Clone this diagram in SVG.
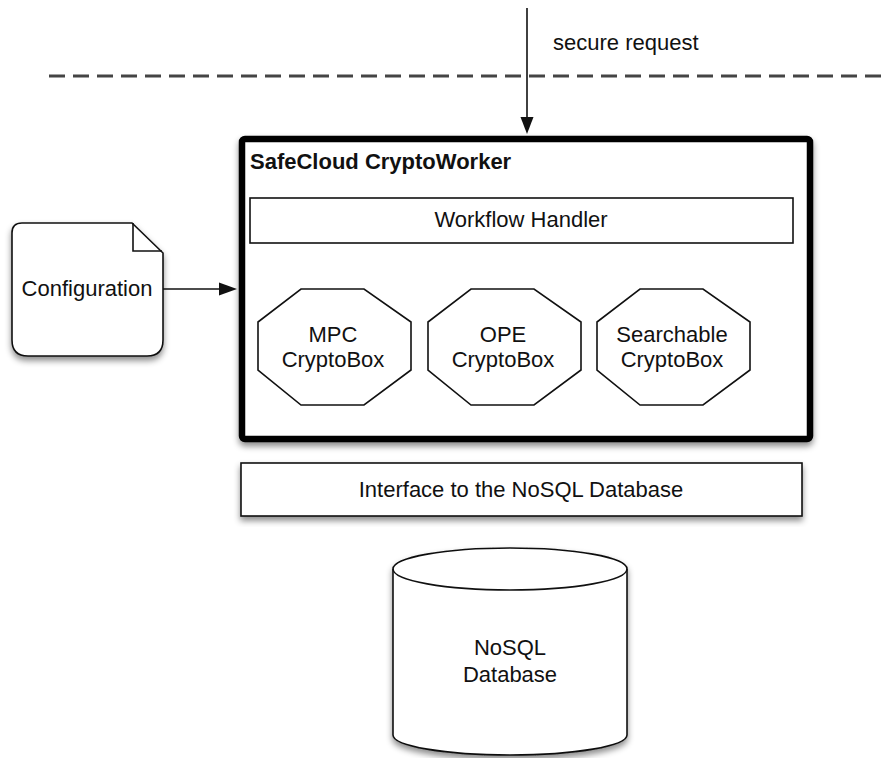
<svg xmlns="http://www.w3.org/2000/svg" width="887" height="758" viewBox="0 0 887 758">
<style>
text{font-family:"Liberation Sans",Arial,sans-serif;font-size:22px;fill:#111;}
.c{text-anchor:middle;}
.b{font-weight:bold;}
.shape{fill:#fff;stroke:#111;stroke-width:1.6;}
.conn{stroke:#111;stroke-width:1.6;fill:none;}
.head{fill:#111;stroke:none;}
</style>
<defs>
<filter id="sh" x="-10%" y="-10%" width="125%" height="130%">
<feDropShadow dx="0" dy="4" stdDeviation="3" flood-color="#000" flood-opacity="0.45"/>
</filter>
</defs>
<rect width="887" height="758" fill="#fff"/>
<g id="boundary">
<line x1="49" y1="76" x2="887" y2="76" stroke="#444" stroke-width="3" stroke-dasharray="16 8"/>
</g>
<g id="label-secure-request">
<text x="553" y="50">secure request</text>
</g>
<g id="cryptoworker">
<rect x="242" y="139" width="568" height="300" rx="3" fill="#fff" stroke="#000" stroke-width="6.5" filter="url(#sh)"/>
<text class="b" x="250" y="169">SafeCloud CryptoWorker</text>
</g>
<g id="workflow-handler">
<rect class="shape" x="250" y="198" width="543" height="45"/>
<text class="c" x="521" y="227">Workflow Handler</text>
</g>
<g id="mpc-cryptobox">
<polygon class="shape" points="301,289 364,289 411,322 411,370 364,405 301,405 258,370 258,322"/>
<text class="c" x="333" y="342">MPC</text>
<text class="c" x="333" y="367">CryptoBox</text>
</g>
<g id="ope-cryptobox">
<polygon class="shape" points="471,289 534,289 581,322 581,370 534,405 471,405 428,370 428,322"/>
<text class="c" x="503" y="342">OPE</text>
<text class="c" x="503" y="367">CryptoBox</text>
</g>
<g id="searchable-cryptobox">
<polygon class="shape" points="640,289 703,289 750,322 750,370 703,405 640,405 597,370 597,322"/>
<text class="c" x="672" y="342">Searchable</text>
<text class="c" x="672" y="367">CryptoBox</text>
</g>
<g id="configuration">
<path class="shape" filter="url(#sh)" d="M12,233 Q12,223 22,223 L132,223 L163,253 L163,340 Q163,356 147,356 L28,356 Q12,356 12,340 Z"/>
<path class="conn" d="M133,223 L133,251 L162,251"/>
<text class="c" x="87" y="296">Configuration</text>
</g>
<g id="interface">
<rect class="shape" x="241" y="463" width="561" height="53" filter="url(#sh)"/>
<text class="c" x="521" y="497">Interface to the NoSQL Database</text>
</g>
<g id="nosql-database">
<path class="shape" filter="url(#sh)" d="M393,569 L393,735 A117,20 0 0 0 627,735 L627,569 A117,21 0 0 0 393,569 Z"/>
<path class="conn" d="M393,569 A117,21 0 0 0 627,569"/>
<text class="c" x="510" y="655">NoSQL</text>
<text class="c" x="510" y="682">Database</text>
</g>
<g id="connectors">
<line class="conn" x1="527" y1="8" x2="527" y2="119"/>
<polygon class="head" points="520.5,117 533.5,117 527,134"/>
<line class="conn" x1="163" y1="289" x2="221" y2="289"/>
<polygon class="head" points="219,282.5 237,289 219,295.5"/>
</g>
</svg>
